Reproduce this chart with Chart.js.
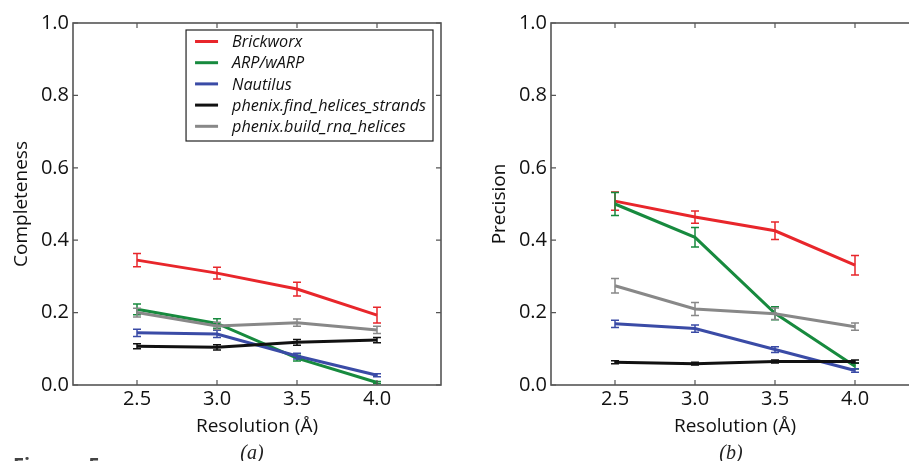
<!DOCTYPE html>
<html>
<head>
<meta charset="utf-8">
<script src="https://cdn.jsdelivr.net/npm/chart.js@4.4.0/dist/chart.umd.min.js"></script>
<style>
  html, body { margin: 0; padding: 0; background: #fff; }
  body { width: 909px; height: 461px; overflow: hidden; position: relative; }
  .panel { position: absolute; top: 0; }
  #panel-a { left: 0; }
  #panel-b { left: 478px; }
  .caption {
    position: absolute; transform: translate(-50%, -50%);
    font-family: 'Liberation Serif', serif; font-style: italic; font-size: 20px; color: #222;
  }
  #fig-label {
    position: absolute; left: 13px; top: 455px; line-height: 20px;
    font-family: 'Open Sans', sans-serif; font-weight: bold; font-size: 20px; color: #444;
    word-spacing: 8px;
  }
</style>
</head>
<body>
<div class="panel" id="panel-a"><canvas id="chart-a" width="460" height="461"></canvas></div>
<div class="panel" id="panel-b"><canvas id="chart-b" width="460" height="461"></canvas></div>
<div class="caption" style="left:252px; top:452px;">(a)</div>
<div class="caption" style="left:731px; top:452px;">(b)</div>
<div id="fig-label">Figure 5.</div>

<script>
// ============================================================
// Data
// ============================================================
const resolution = [2.5, 3.0, 3.5, 4.0];
const xTicks = [2.5, 3.0, 3.5, 4.0];
const yTicks = [0.0, 0.2, 0.4, 0.6, 0.8, 1.0];
const programs = ['Brickworx', 'ARP/wARP', 'Nautilus', 'phenix.find_helices_strands', 'phenix.build_rna_helices'];
const colors = ['#e8262b', '#178a3e', '#3a4ba6', '#111111', '#888888'];

// (a) completeness
const complBrickworx   = [0.345, 0.309, 0.265, 0.193];
const complArpWarp     = [0.209, 0.170, 0.074, 0.007];
const complNautilus    = [0.144, 0.141, 0.080, 0.027];
const complFindHelices = [0.107, 0.104, 0.118, 0.124];
const complBuildRna    = [0.200, 0.163, 0.172, 0.152];

const complBrickworxErr   = [0.018, 0.016, 0.019, 0.022];
const complArpWarpErr     = [0.015, 0.013, 0.008, 0.003];
const complNautilusErr    = [0.010, 0.010, 0.008, 0.004];
const complFindHelicesErr = [0.007, 0.007, 0.008, 0.007];
const complBuildRnaErr    = [0.012, 0.010, 0.010, 0.010];

// (b) precision
const precBrickworx   = [0.508, 0.464, 0.426, 0.331];
const precArpWarp     = [0.500, 0.408, 0.198, 0.052];
const precNautilus    = [0.169, 0.156, 0.098, 0.040];
const precFindHelices = [0.063, 0.059, 0.065, 0.065];
const precBuildRna    = [0.274, 0.210, 0.197, 0.161];

const precBrickworxErr   = [0.025, 0.017, 0.024, 0.027];
const precArpWarpErr     = [0.032, 0.027, 0.018, 0.008];
const precNautilusErr    = [0.010, 0.010, 0.008, 0.005];
const precFindHelicesErr = [0.004, 0.004, 0.004, 0.004];
const precBuildRnaErr    = [0.020, 0.018, 0.016, 0.010];

// ============================================================
// Plugins
// ============================================================
const SANS = "'Open Sans', sans-serif";

// vertical error bars with caps, drawn right after each line
const errorBars = {
  id: 'errorBars',
  afterDatasetDraw(chart, args) {
    const ds = chart.data.datasets[args.index];
    if (!ds.errors) return;
    const { ctx, scales: { x, y } } = chart;
    ctx.save();
    ctx.strokeStyle = ds.borderColor;
    ctx.lineWidth = 1.5;
    ctx.beginPath();
    ds.data.forEach((p, i) => {
      const e = ds.errors[i];
      const px = x.getPixelForValue(p.x);
      const top = y.getPixelForValue(p.y + e);
      const bot = y.getPixelForValue(p.y - e);
      ctx.moveTo(px, top); ctx.lineTo(px, bot);
      ctx.moveTo(px - 4, top); ctx.lineTo(px + 4, top);
      ctx.moveTo(px - 4, bot); ctx.lineTo(px + 4, bot);
    });
    ctx.stroke();
    ctx.restore();
  }
};

// box around the plot with inward ticks on all four sides
const frame = {
  id: 'frame',
  afterDraw(chart) {
    const { ctx, chartArea: a, scales: { x, y } } = chart;
    ctx.save();
    ctx.strokeStyle = '#555';
    ctx.lineWidth = 1.6;
    ctx.strokeRect(a.left, a.top, a.right - a.left, a.bottom - a.top);
    ctx.lineWidth = 1.2;
    ctx.beginPath();
    x.ticks.forEach(t => {
      const px = x.getPixelForValue(t.value);
      ctx.moveTo(px, a.bottom); ctx.lineTo(px, a.bottom - 5);
      ctx.moveTo(px, a.top); ctx.lineTo(px, a.top + 5);
    });
    y.ticks.forEach(t => {
      const py = y.getPixelForValue(t.value);
      ctx.moveTo(a.left, py); ctx.lineTo(a.left + 5, py);
      ctx.moveTo(a.right, py); ctx.lineTo(a.right - 5, py);
    });
    ctx.stroke();
    ctx.restore();
  }
};

// matplotlib-like legend box in the upper right of the plot
const boxLegend = {
  id: 'boxLegend',
  afterDraw(chart, args, opts) {
    if (!opts.show) return;
    const { ctx, chartArea: a } = chart;
    const datasets = chart.data.datasets;
    ctx.save();
    ctx.font = 'italic 16.2px ' + SANS;
    const textW = Math.max(...datasets.map(d => ctx.measureText(d.label).width));
    const rowH = 21.2;
    const w = 9 + 23 + 14 + textW + 7;
    const h = datasets.length * rowH + 5;
    const left = a.right - 8 - w;
    const top = a.top + 7;
    ctx.fillStyle = '#fff';
    ctx.fillRect(left, top, w, h);
    ctx.strokeStyle = '#222';
    ctx.lineWidth = 1.2;
    ctx.strokeRect(left, top, w, h);
    ctx.textBaseline = 'middle';
    datasets.forEach((d, i) => {
      const cy = top + 11.5 + i * rowH;
      ctx.strokeStyle = d.borderColor;
      ctx.lineWidth = 3;
      ctx.beginPath();
      ctx.moveTo(left + 9, cy); ctx.lineTo(left + 32, cy);
      ctx.stroke();
      ctx.fillStyle = '#111';
      ctx.fillText(d.label, left + 46, cy + 1);
    });
    ctx.restore();
  }
};

// ============================================================
// Chart builder
// ============================================================
function buildDatasets(values, errors) {
  return programs.map((name, i) => ({
    label: name,
    data: resolution.map((r, j) => ({ x: r, y: values[i][j] })),
    errors: errors[i],
    borderColor: colors[i],
    borderWidth: 3,
    pointRadius: 0,
    tension: 0,
    fill: false,
    order: programs.length - i,
  }));
}

function makeChart(canvasId, yTitle, values, errors, showLegend) {
  const ctx = document.getElementById(canvasId).getContext('2d');
  return new Chart(ctx, {
    type: 'line',
    data: { datasets: buildDatasets(values, errors) },
    plugins: [errorBars, frame, boxLegend],
    options: {
      responsive: false,
      animation: false,
      events: [],
      layout: { padding: { top: 23, right: 19, left: 0, bottom: 0 } },
      plugins: {
        legend: { display: false },
        tooltip: { enabled: false },
        boxLegend: { show: showLegend },
      },
      scales: {
        x: {
          type: 'linear',
          min: 2.1,
          max: 4.4,
          afterBuildTicks: s => { s.ticks = xTicks.map(v => ({ value: v })); },
          afterFit: s => { s.height = 76; },
          grid: { display: false, drawTicks: false },
          border: { display: false },
          ticks: {
            color: '#111',
            padding: 2,
            maxRotation: 0,
            font: { family: SANS, size: 20 },
            callback: v => v.toFixed(1),
          },
          title: {
            display: true,
            text: 'Resolution (Å)',
            color: '#111',
            font: { family: SANS, size: 19 },
            padding: { bottom: 23 },
          },
        },
        y: {
          type: 'linear',
          min: 0,
          max: 1,
          afterBuildTicks: s => { s.ticks = yTicks.map(v => ({ value: v })); },
          afterFit: s => { s.width = 73; },
          grid: { display: false, drawTicks: false },
          border: { display: false },
          ticks: {
            color: '#111',
            padding: 4,
            font: { family: SANS, size: 20 },
            callback: v => v.toFixed(1),
          },
          title: {
            display: true,
            text: yTitle,
            color: '#111',
            font: { family: SANS, size: 19 },
            padding: { top: 10 },
          },
        },
      },
    },
  });
}

makeChart('chart-a', 'Completeness',
  [complBrickworx, complArpWarp, complNautilus, complFindHelices, complBuildRna],
  [complBrickworxErr, complArpWarpErr, complNautilusErr, complFindHelicesErr, complBuildRnaErr],
  true);

makeChart('chart-b', 'Precision',
  [precBrickworx, precArpWarp, precNautilus, precFindHelices, precBuildRna],
  [precBrickworxErr, precArpWarpErr, precNautilusErr, precFindHelicesErr, precBuildRnaErr],
  false);
</script>
</body>
</html>
